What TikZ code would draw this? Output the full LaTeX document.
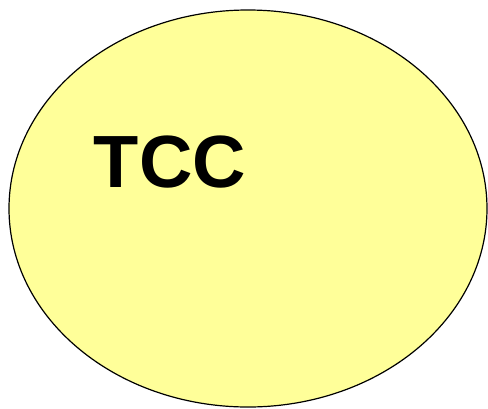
\documentclass[tikz,border=0pt]{standalone}
\usepackage{fontspec}
\setmainfont{Liberation Sans}
\usepackage{tikz}
\usetikzlibrary{positioning}
\definecolor{paleyellow}{HTML}{FFFF99}

\begin{document}
\begin{tikzpicture}[x=1pt, y=-1pt]
  \useasboundingbox (0,0) rectangle (488,408);
  % the set
  \draw[line width=1.2pt, fill=paleyellow] (248,208.5) ellipse [x radius=239, y radius=198.5];
  \node[font=\fontsize{74}{80}\selectfont\bfseries, inner sep=0pt, anchor=base] (tcc) at (170,187) {TCC};
\end{tikzpicture}
\end{document}
